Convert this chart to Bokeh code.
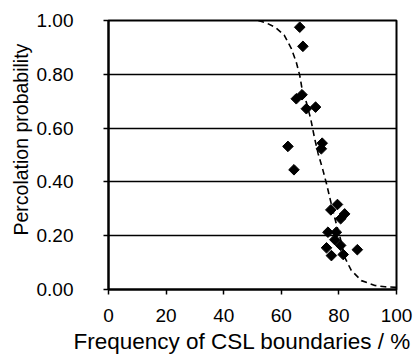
import math
from bokeh.plotting import figure
from bokeh.models import FixedTicker, NumeralTickFormatter, Range1d, Title
from bokeh.embed import file_html
from bokeh.resources import INLINE

# Measured points: frequency of CSL boundaries (%) vs percolation probability
csl_freq = [66.4, 67.5, 65.2, 67.2, 68.7, 71.9, 74.2, 73.9, 62.3, 64.4,
            77.2, 79.5, 82.0, 80.6, 76.2, 79.1, 75.7, 78.6, 80.6, 77.4, 81.5, 86.4]
perc_prob = [0.975, 0.904, 0.709, 0.724, 0.672, 0.678, 0.544, 0.523, 0.532, 0.445,
             0.296, 0.316, 0.281, 0.263, 0.213, 0.213, 0.155, 0.185, 0.164, 0.126, 0.130, 0.148]

# Dashed model curve
curve_x = [52, 55, 58, 61, 63.5, 65.2, 66.4, 67.2, 68.7, 70.2, 71.6, 72.8, 74.5,
           75.7, 76.8, 78, 79.2, 80.5, 82, 84.3, 87.8, 92.5, 96, 100]
curve_y = [1.0, 0.99, 0.974, 0.946, 0.895, 0.845, 0.796, 0.746, 0.696, 0.635, 0.56,
           0.505, 0.442, 0.393, 0.343, 0.29, 0.24, 0.19, 0.12, 0.071, 0.033, 0.015, 0.01, 0.008]

x_ticks = [0, 20, 40, 60, 80, 100]
y_ticks = [0.0, 0.2, 0.4, 0.6, 0.8, 1.0]

FONT = "Liberation Sans"

p = figure(width=415, height=359, output_backend="svg", toolbar_location=None,
           x_range=Range1d(0, 100), y_range=Range1d(0, 1),
           min_border_left=108, min_border_right=19, min_border_top=20, min_border_bottom=70)
p.background_fill_color = "white"
p.border_fill_color = "white"
p.outline_line_color = "black"
p.outline_line_width = 2

p.xgrid.visible = False
p.ygrid.ticker = FixedTicker(ticks=y_ticks)
p.ygrid.grid_line_color = "black"
p.ygrid.grid_line_width = 1.5

for ax in (p.xaxis[0], p.yaxis[0]):
    ax.axis_line_color = "black"
    ax.axis_line_width = 2
    ax.major_tick_line_color = "black"
    ax.major_tick_line_width = 1.5
    ax.major_tick_in = 0
    ax.major_tick_out = 5
    ax.minor_tick_line_color = None
    ax.major_label_text_font = FONT
    ax.major_label_text_font_size = "19px"
    ax.major_label_text_color = "black"

p.xaxis.ticker = FixedTicker(ticks=x_ticks)
p.xaxis.major_label_standoff = 14

p.yaxis.ticker = FixedTicker(ticks=y_ticks)
p.yaxis.formatter = NumeralTickFormatter(format="0.00")
p.yaxis.major_label_standoff = 30

ytitle = Title(text="Percolation probability", align="left", offset=54, standoff=4,
               text_font=FONT, text_font_size="19.5px", text_font_style="normal",
               text_color="black")
p.add_layout(ytitle, "left")

xtitle = Title(text="Frequency of CSL boundaries / %", align="left", offset=-35, standoff=4,
               text_font=FONT, text_font_size="22.5px", text_font_style="normal",
               text_color="black")
p.add_layout(xtitle, "below")

p.line(curve_x, curve_y, line_color="black", line_width=1.6, line_dash="6 4")
p.scatter(csl_freq, perc_prob, marker="square", size=7.5, angle=math.pi / 4,
          fill_color="black", line_color="black")

open("out.html", "w").write(file_html(p, INLINE))
